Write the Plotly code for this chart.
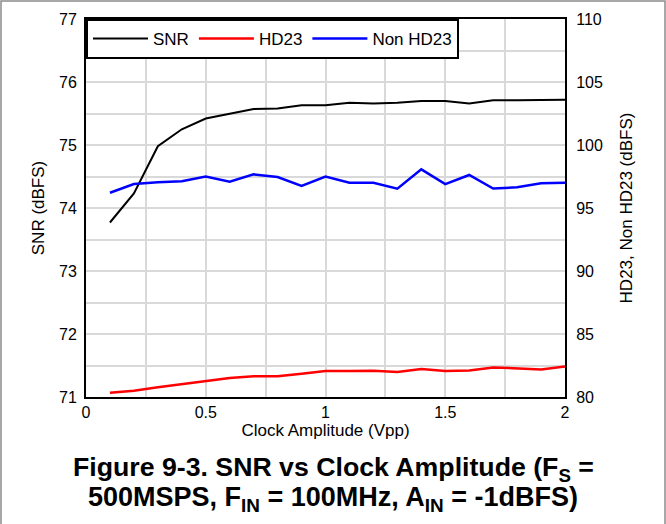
import plotly.graph_objects as go

clock_vpp = [0.1, 0.2, 0.3, 0.4, 0.5, 0.6, 0.7, 0.8, 0.9, 1.0,
             1.1, 1.2, 1.3, 1.4, 1.5, 1.6, 1.7, 1.8, 1.9, 2.0]
snr = [73.77, 74.23, 74.98, 75.25, 75.42, 75.49, 75.57, 75.58, 75.63, 75.63,
       75.67, 75.66, 75.67, 75.70, 75.70, 75.66, 75.71, 75.71, 75.72, 75.72]
hd23 = [80.34, 80.50, 80.77, 81.00, 81.27, 81.51, 81.64, 81.64, 81.85, 82.06,
        82.06, 82.09, 81.98, 82.22, 82.06, 82.10, 82.35, 82.27, 82.19, 82.43]
non_hd23 = [96.21, 96.90, 97.04, 97.12, 97.49, 97.09, 97.67, 97.46, 96.75, 97.49,
            97.01, 97.01, 96.54, 98.07, 96.90, 97.62, 96.54, 96.64, 96.96, 97.00]

FONT = "Liberation Sans, Arial, sans-serif"
W, H = 666, 524
L, R, T, B = 86, 101, 19, 127
PW, PH = W - L - R, H - T - B

def px(x):
    return (x - L) / PW

def py(y):
    return (H - B - y) / PH

fig = go.Figure()
fig.add_trace(go.Scatter(x=clock_vpp, y=snr, name="SNR", mode="lines",
                         line=dict(color="black", width=2)))
fig.add_trace(go.Scatter(x=clock_vpp, y=hd23, name="HD23", mode="lines",
                         line=dict(color="#ff0000", width=2.5), yaxis="y2"))
fig.add_trace(go.Scatter(x=clock_vpp, y=non_hd23, name="Non HD23", mode="lines",
                         line=dict(color="#0000ff", width=2.5), yaxis="y2"))

grid = "#d9d9d9"
fig.update_layout(
    width=W, height=H,
    margin=dict(l=L, r=R, t=T, b=B, autoexpand=False),
    paper_bgcolor="white", plot_bgcolor="white",
    font=dict(family=FONT, size=16, color="black"),
    showlegend=True,
    legend=dict(x=0, y=1, xanchor="left", yanchor="top", orientation="h",
                bgcolor="white", bordercolor="black", borderwidth=2,
                font=dict(size=17), itemwidth=55, tracegroupgap=0),
    xaxis=dict(range=[0, 2], dtick=0.5, tick0=0, showgrid=True, gridcolor=grid,
               gridwidth=1.5, minor=dict(dtick=0.25, showgrid=True, gridcolor=grid, gridwidth=1.5),
               showline=True, linecolor="black", linewidth=2, mirror=True,
               ticks="", zeroline=False, automargin=False,
               title=dict(text="Clock Amplitude (Vpp)", standoff=2, font=dict(size=17))),
    yaxis=dict(range=[71, 77], dtick=1, showgrid=True, gridcolor=grid, gridwidth=1.5,
               minor=dict(dtick=0.5, showgrid=True, gridcolor=grid, gridwidth=1.5),
               showline=True, linecolor="black", linewidth=2, mirror=True,
               ticks="", zeroline=False, ticklabelstandoff=4, automargin=False,
               title=dict(text="SNR (dBFS)", standoff=10, font=dict(size=17))),
    yaxis2=dict(range=[80, 110], dtick=5, overlaying="y", side="right",
                showgrid=False, showline=True, linecolor="black", linewidth=2,
                ticks="", zeroline=False, ticklabelstandoff=6, automargin=False,
                title=dict(text="HD23, Non HD23 (dBFS)", standoff=18, font=dict(size=17))),
)

# outer frame of the figure
fig.add_shape(type="rect", xref="paper", yref="paper",
              x0=px(1), x1=px(665), y0=py(530), y1=py(1),
              line=dict(color="#8c8c8c", width=1.5), fillcolor="rgba(0,0,0,0)", layer="below")

fig.add_annotation(xref="paper", yref="paper", x=px(333), y=py(469),
                   xanchor="center", yanchor="middle", showarrow=False,
                   text="<b>Figure 9-3. SNR vs Clock Amplitude (F<sub>S</sub> =</b>",
                   font=dict(family=FONT, size=26.7, color="black"))
fig.add_annotation(xref="paper", yref="paper", x=px(333), y=py(499),
                   xanchor="center", yanchor="middle", showarrow=False,
                   text="<b>500MSPS, F<sub>IN</sub> = 100MHz, A<sub>IN</sub> = -1dBFS)</b>",
                   font=dict(family=FONT, size=27, color="black"))

fig.write_html("out.html", config={"displayModeBar": False},
               post_script="document.body.style.margin='0';document.body.style.overflow='hidden';")
